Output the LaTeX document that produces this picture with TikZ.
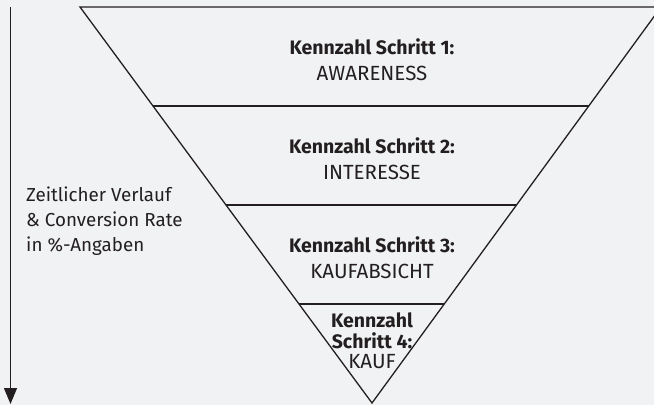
\documentclass[tikz,border=0pt]{standalone}
\usepackage{fontspec}
\setmainfont{Fira Sans}
\usetikzlibrary{calc,arrows.meta}
\definecolor{ink}{HTML}{231F20}
\definecolor{paper}{HTML}{F1F2F4}
\tikzset{
  edge/.style={draw=ink, line width=1.3pt},
  head/.style={anchor=base, text=ink, font=\fontsize{19.5}{22}\selectfont\bfseries, inner sep=0pt},
  stage/.style={anchor=base, text=ink, font=\fontsize{20.5}{22}\selectfont, inner sep=0pt},
  note/.style={anchor=base west, text=ink, font=\fontsize{18.8}{22}\selectfont, inner sep=0pt, align=left},
}
\begin{document}
\begin{tikzpicture}[x=1pt, y=-1pt]
  \fill[paper] (0,0) rectangle (654,405);
  \useasboundingbox (0,0) rectangle (654,405);

  % funnel corners
  \coordinate (L) at (80,7);
  \coordinate (R) at (661,7);
  \coordinate (A) at (372,403);

  \begin{scope}
    \clip (0,0) rectangle (654,405);
    \draw[edge, line join=miter] (L) -- (R) -- (A) -- cycle;
    \foreach \t in {0.25,0.5,0.75}
      \draw[edge] ($(L)!\t!(A)$) -- ($(R)!\t!(A)$);
  \end{scope}

  % stage labels
  \node[head]  (h1) at (372,54)  {Kennzahl Schritt 1:};
  \node[stage] (s1) at (372,80)  {AWARENESS};
  \node[head]  (h2) at (372,153) {Kennzahl Schritt 2:};
  \node[stage] (s2) at (372,179) {INTERESSE};
  \node[head]  (h3) at (372,252) {Kennzahl Schritt 3:};
  \node[stage] (s3) at (372,278) {KAUFABSICHT};
  \node[head]  (h4a) at (372,327) {Kennzahl};
  \node[head]  (h4b) at (372,348) {Schritt 4:};
  \node[stage] (s4) at (372,368) {KAUF};

  % time axis
  \coordinate (t0) at (10.5,7);
  \coordinate (t1) at (10.5,404);
  \draw[ink, line width=1.3pt, -{Triangle[length=16pt, width=13pt]}] (t0) -- (t1);
  \node[note] (n1) at (26,201) {Zeitlicher Verlauf};
  \node[note] (n2) at (26,226) {\& Conversion Rate};
  \node[note] (n3) at (26,251) {in \%-Angaben};
\end{tikzpicture}
\end{document}
